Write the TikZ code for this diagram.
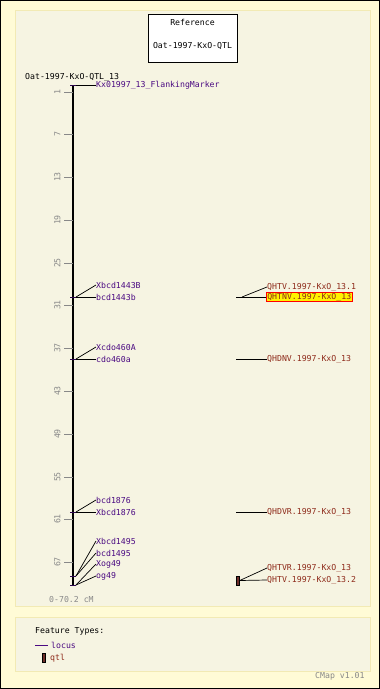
\documentclass[tikz,border=0pt]{standalone}
\usepackage{fontspec}
\setmainfont{DejaVu Sans Mono}
\definecolor{outerbg}{HTML}{FFFBD6}
\definecolor{panelbg}{HTML}{F6F4E2}
\definecolor{panelline}{HTML}{F2EAB4}
\definecolor{locuscol}{HTML}{4B0A82}
\definecolor{qtlcol}{HTML}{8E2A1A}
\definecolor{qtlfill}{HTML}{6E2E2A}
\definecolor{tickcol}{HTML}{888888}
\begin{document}
\begin{tikzpicture}[x=1pt,y=-1pt,
  txt/.style={font=\fontsize{8.2}{9}\selectfont, inner sep=0pt, anchor=west},
  loc/.style={txt, text=locuscol},
  qtllab/.style={txt, text=qtlcol},
  tick/.style={tickcol, line width=0.8pt},
  ticklab/.style={font=\fontsize{8.2}{9}\selectfont, text=tickcol, inner sep=0pt, rotate=90},
  conn/.style={black, line width=0.7pt},
  qtlbox/.style={draw=black, fill=qtlfill, line width=0.5pt, minimum width=3pt, minimum height=9pt, inner sep=0pt}]
\useasboundingbox (0,0) rectangle (380,689);
\fill[outerbg] (0,0) rectangle (380,689);
\draw[black, line width=1.2pt] (0.6,0.6) rectangle (379.4,688.4);
% panels
\draw[panelline, fill=panelbg, line width=1pt] (15,10) rectangle (370,606);
\draw[panelline, fill=panelbg, line width=1pt] (15,617) rectangle (370,671);
% reference box
\node[draw=black, fill=white, line width=0.7pt, minimum width=89pt, minimum height=48pt, inner sep=0pt] (ref) at (192.5,38) {};
\node[txt, anchor=center] (reft) at (192.5,22) {Reference};
\node[txt, anchor=center] (refn) at (192.5,46) {Oat-1997-KxO-QTL};
% title
\node[txt] (title) at (25,77) {Oat-1997-KxO-QTL\_13};
% axis
\coordinate (atop) at (73,85);
\coordinate (abot) at (73,586);
\draw[black, line width=2pt] (atop) -- (abot);
% ticks
\foreach \v/\y in {1/92,7/134.5,13/177,19/220,25/263,31/305,37/348,43/391,49/434,55/477,61/519,67/562}{
  \draw[tick] (64,\y) -- (73,\y);
  \node[ticklab] at (57.5,\y) {\v};
}
\node[txt, text=tickcol] (range) at (49,600) {0-70.2 cM};
% marker ticks on axis
\foreach \y in {85,297,359,512,576,585}{
  \draw[locuscol!60!black, line width=0.8pt] (70,\y) -- (76,\y);
}
\coordinate (m0) at (76,85);
\coordinate (m1) at (76,297);
\coordinate (m2) at (76,359);
\coordinate (m3) at (76,512);
\coordinate (m4) at (76,576);
\coordinate (m5) at (76,585);
% locus labels
\node[loc] (l0) at (96,85) {Kx01997\_13\_FlankingMarker};
\node[loc] (l1a) at (96,285) {Xbcd1443B};
\node[loc] (l1b) at (96,297) {bcd1443b};
\node[loc] (l2a) at (96,347) {Xcdo460A};
\node[loc] (l2b) at (96,359) {cdo460a};
\node[loc] (l3a) at (96,500) {bcd1876};
\node[loc] (l3b) at (96,512) {Xbcd1876};
\node[loc] (l4a) at (96,541) {Xbcd1495};
\node[loc] (l4b) at (96,553) {bcd1495};
\node[loc] (l4c) at (96,564) {Xog49};
\node[loc] (l4d) at (96,576) {og49};
\draw[conn] (m0) -- (l0.west);
\draw[conn] (m1) -- (l1a.west);
\draw[conn] (m1) -- (l1b.west);
\draw[conn] (m2) -- (l2a.west);
\draw[conn] (m2) -- (l2b.west);
\draw[conn] (m3) -- (l3a.west);
\draw[conn] (m3) -- (l3b.west);
\draw[conn] (m4) -- (l4a.west);
\draw[conn] (m4) -- (l4b.west);
\draw[conn] (m5) -- (l4c.west);
\draw[conn] (m5) -- (l4d.west);
% QTLs
\coordinate (q1) at (236,297);
\coordinate (q1s) at (242,297);
\node[qtllab] (t1a) at (267,287) {QHTV.1997-KxO\_13.1};
\node[txt, text=qtlcol, fill=yellow, draw=red, line width=0.6pt, inner sep=0.6pt] (t1b) at (266.4,297) {QHTNV.1997-KxO\_13};
\draw[conn] (q1) -- (q1s);
\draw[conn] (q1s) -- (t1a.west);
\draw[conn] (q1s) -- (t1b.west);
\coordinate (q2) at (236,359);
\node[qtllab] (t2) at (267,359) {QHDNV.1997-KxO\_13};
\draw[conn] (q2) -- (t2.west);
\coordinate (q3) at (236,512);
\node[qtllab] (t3) at (267,512) {QHDVR.1997-KxO\_13};
\draw[conn] (q3) -- (t3.west);
\node[qtlbox] (qb) at (238,580.5) {};
\node[qtllab] (t4a) at (267,568) {QHTVR.1997-KxO\_13};
\node[qtllab] (t4b) at (267,580) {QHTV.1997-KxO\_13.2};
\draw[conn] (qb.east) -- (t4a.west);
\draw[conn] (qb.east) -- (t4b.west);
% legend
\node[txt] (ft) at (35,631) {Feature Types:};
\coordinate (lg1) at (35,645);
\coordinate (lg2) at (48,645);
\draw[locuscol, line width=0.8pt] (lg1) -- (lg2);
\node[loc] (lgl) at (51,645) {locus};
\node[qtlbox] (lgb) at (43.5,657.5) {};
\node[qtllab] (lgq) at (50,658) {qtl};
\node[txt, text=tickcol] (cmap) at (315,676) {CMap v1.01};
\end{tikzpicture}
\end{document}
